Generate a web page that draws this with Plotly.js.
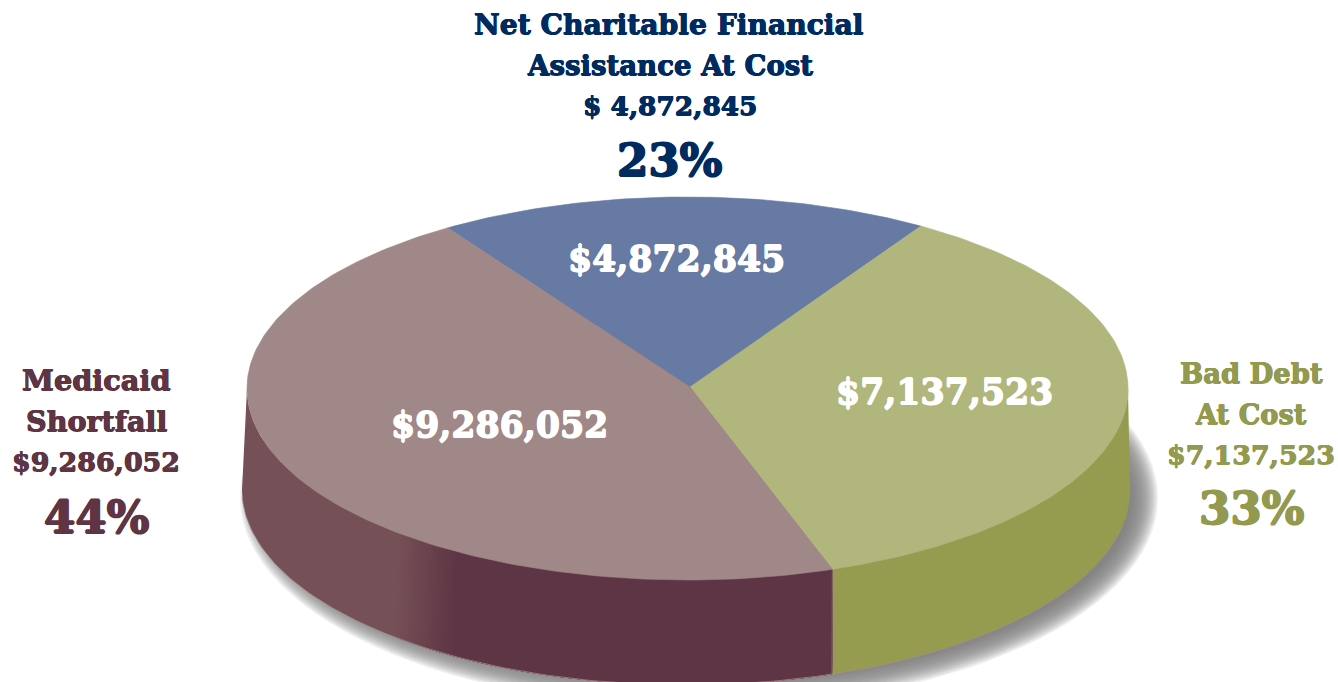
<!DOCTYPE html>
<html><head><meta charset="utf-8">
<script src="https://cdn.plot.ly/plotly-3.0.1.min.js"></script>
<style>html,body{margin:0;padding:0;background:#fff;overflow:hidden}#c{width:1338px;height:682px}</style>
</head><body><div id="c"></div>
<script>
// Chart data
const categories = ["Net Charitable Financial Assistance At Cost", "Bad Debt At Cost", "Medicaid Shortfall"];
const amounts = [4872845, 7137523, 9286052];
const percents = [23, 33, 44];
// The source artwork's slices do not follow its stated shares, so sweeps are read off the picture.
const drawnSweepDeg = [65, 128.8, 166.2];
const startDeg = -33;

const topColors = ["#667aa3", "#b1b67c", "#a08788"];
const wallColors = [null, "#959c4f", "#5e3544"];
const textColors = ["#002b60", "#93994f", "#5f3544"];

const G = {cx:687.5, cy:388.5, rx:440.5, ry:191.5, ax:690, ay:387, bx:686, by:490, brx:444, bry:195};
const rad = d => d*Math.PI/180;
const topPt = t => [G.cx+G.rx*Math.sin(rad(t)), G.cy-G.ry*Math.cos(rad(t))];
const botPt = t => [G.bx+G.brx*Math.sin(rad(t)), G.by-G.bry*Math.cos(rad(t))];
const range = (a,b,s) => {const o=[];const n=Math.max(1,Math.round(Math.abs(b-a)/s));for(let i=0;i<=n;i++)o.push(a+(b-a)*i/n);return o;};
const poly = (pts,color,extra) => Object.assign({type:"scatter",mode:"lines",x:pts.map(p=>p[0]),y:pts.map(p=>p[1]),
  fill:"toself",fillcolor:color,line:{color:color,width:0.6},hoverinfo:"skip",showlegend:false},extra||{});

const traces = [];
// soft drop shadow
for(let i=0;i<18;i++){
  const grow = 15-i*1.6;
  const pts = range(0,360,3).map(t=>[699+(G.brx+grow)*Math.sin(rad(t)), 498-(G.bry+grow)*Math.cos(rad(t))]);
  traces.push(poly(pts,"rgba(125,123,125,0.12)",{line:{width:0,color:"rgba(0,0,0,0)"}}));
}
// slice angles
const edges=[startDeg];
drawnSweepDeg.forEach(s=>edges.push(edges[edges.length-1]+s));
// side wall: olive
const wall=(a,b,color,noLine)=>{const ts=range(a,b,1);return poly(ts.map(topPt).concat(ts.slice().reverse().map(botPt)),color,noLine?{line:{width:0,color:color}}:{});};
traces.push(wall(90,edges[2],wallColors[1]));
// side wall: maroon, shaded by horizontal position; later layers overpaint earlier ones
const mix=(x)=>{
  const f=Math.min(1,Math.max(0,(x-395)/(453-395)));
  const l=[0x75,0x50,0x56],d=[0x5e,0x35,0x44];
  return "rgb("+l.map((v,i)=>Math.round(v+(d[i]-v)*f)).join(",")+")";
};
traces.push(wall(edges[2],270,mix(0),true));
// bands run from the light side (x=395) towards the dark side (x=453), then flat to the seam
const a0=180-Math.asin((395-G.bx)/G.brx)*180/Math.PI, a1=180-Math.asin((453-G.bx)/G.brx)*180/Math.PI;
for(let i=0;i<=30;i++){
  const t=a0+(a1-a0)*i/30;
  traces.push(wall(edges[2],t,mix(botPt(t)[0]),true));
}
// thin highlight on the lower rim
const rim=range(100,268,1).map(botPt);
traces.push({type:"scatter",mode:"lines",x:rim.map(p=>p[0]),y:rim.map(p=>p[1]),line:{color:"#a58d8e",width:0.8},hoverinfo:"skip",showlegend:false});
// seam between walls
const s0=topPt(edges[2]),s1=botPt(edges[2]);
traces.push({type:"scatter",mode:"lines",x:[s0[0],s1[0]],y:[s0[1],s1[1]],line:{color:"#8d7a6e",width:0.8},hoverinfo:"skip",showlegend:false});
// top face
drawnSweepDeg.forEach((s,i)=>{
  const pts=[[G.ax,G.ay]].concat(range(edges[i],edges[i+1],1).map(topPt));
  pts.push([G.ax,G.ay]);
  traces.push(poly(pts,topColors[i]));
});

const fam="DejaVu Serif";
const money=v=>"$"+v.toLocaleString("en-US");
const heavy=(c,w)=>`${w}px 0 0 ${c}, -${w}px 0 0 ${c}, 0 ${w}px 0 ${c}, 0 -${w}px 0 ${c}`;
const note=(text,x,y,size,color,w)=>({text:text,x:x,y:y,xref:"x",yref:"y",showarrow:false,xanchor:"center",yanchor:"middle",
  font:{family:fam,size:size,color:color,weight:700,shadow:heavy(color,w||0.5)}});
const annotations=[
  note("Net Charitable Financial",669,24,28.2,textColors[0]),
  note("Assistance At Cost",669.5,65,27.6,textColors[0]),
  note("$ "+amounts[0].toLocaleString("en-US"),669.5,105,26.4,textColors[0]),
  note(percents[0]+"%",669,160,45,textColors[0],0.9),
  note("Bad Debt",1251,373,27.4,textColors[1]),
  note("At Cost",1251,414,27.2,textColors[1]),
  note(money(amounts[1]),1251,454,26.8,textColors[1]),
  note(percents[1]+"%",1251,508,45,textColors[1],0.9),
  note("Medicaid",96,380,28.8,textColors[2]),
  note("Shortfall",96,421,28.6,textColors[2]),
  note(money(amounts[2]),96,461,26.8,textColors[2]),
  note(percents[2]+"%",96,517,45,textColors[2],0.9),
  note(money(amounts[0]),676,258,34.7,"#ffffff",0.7),
  note(money(amounts[1]),944,391,34.7,"#ffffff",0.7),
  note(money(amounts[2]),499,424,34.7,"#ffffff",0.7)
];
Plotly.newPlot("c",traces,{
  width:1338,height:682,margin:{l:0,r:0,t:0,b:0,pad:0},
  paper_bgcolor:"#ffffff",plot_bgcolor:"#ffffff",showlegend:false,hovermode:false,
  xaxis:{range:[0,1338],visible:false,fixedrange:true},
  yaxis:{range:[682,0],visible:false,fixedrange:true},
  annotations:annotations
},{displayModeBar:false,staticPlot:true});
</script></body></html>
